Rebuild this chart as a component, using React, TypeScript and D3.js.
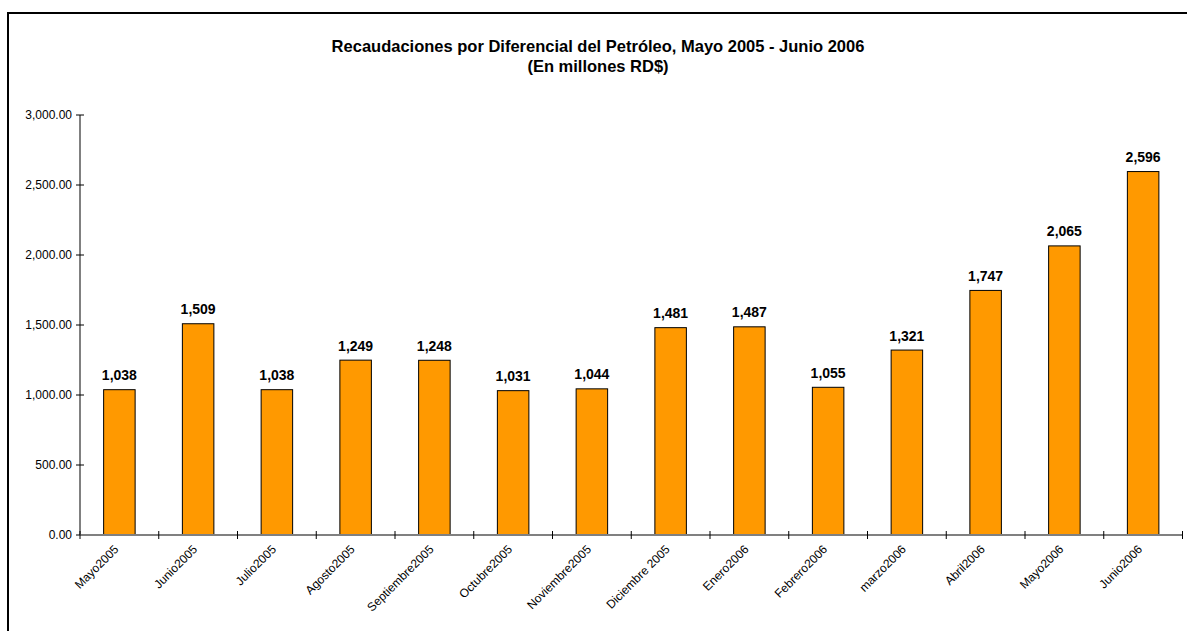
import * as d3 from "d3";

const categories = [
  "Mayo2005", "Junio2005", "Julio2005", "Agosto2005", "Septiembre2005", "Octubre2005",
  "Noviembre2005", "Diciembre 2005", "Enero2006", "Febrero2006", "marzo2006", "Abril2006",
  "Mayo2006", "Junio2006",
];
const values = [1038, 1509, 1038, 1249, 1248, 1031, 1044, 1481, 1487, 1055, 1321, 1747, 2065, 2596];
const yTicks = [0, 500, 1000, 1500, 2000, 2500, 3000];
const titleLines = ["Recaudaciones por Diferencial del Petróleo, Mayo 2005 - Junio 2006", "(En millones RD$)"];

const W = 1187;
const H = 631;
const plot = { left: 80, right: 1182.5, top: 115, bottom: 535 };

export default function App() {
  const x = d3.scaleBand<string>().domain(categories).range([plot.left, plot.right]).paddingInner(0).paddingOuter(0);
  const y = d3.scaleLinear().domain([0, 3000]).range([plot.bottom, plot.top]);
  const bw = x.bandwidth() * 0.4;
  const yFmt = d3.format(",.2f");
  const vFmt = d3.format(",");
  const font = "Arial, 'Liberation Sans', sans-serif";

  return (
    <svg width={W} height={H} style={{ position: "absolute", left: 0, top: 0 }} fontFamily={font}>
      <rect x={0} y={0} width={W} height={H} fill="#fff" />
      <rect x={8} y={13} width={W + 20} height={H + 20} fill="none" stroke="#000" strokeWidth={2} />

      {titleLines.map((t, i) => (
        <text key={i} x={598} y={52 + i * 20} textAnchor="middle" fontSize={16.5} fontWeight="bold" fill="#000">
          {t}
        </text>
      ))}

      {/* bars */}
      {values.map((v, i) => {
        const cx = x(categories[i])! + x.bandwidth() / 2;
        return (
          <g key={i}>
            <rect x={cx - bw / 2} y={y(v)} width={bw} height={y(0) - y(v)} fill="#FF9900" stroke="#000" strokeWidth={1} />
            <text x={cx} y={y(v) - 9.5} textAnchor="middle" fontSize={14} fontWeight="bold" fill="#000">
              {vFmt(v)}
            </text>
          </g>
        );
      })}

      {/* y axis */}
      <line x1={plot.left} x2={plot.left} y1={plot.top} y2={plot.bottom} stroke="#808080" strokeWidth={2} />
      {yTicks.map((t) => (
        <g key={t}>
          <line x1={plot.left - 4} x2={plot.left + 4} y1={y(t)} y2={y(t)} stroke="#000" strokeWidth={1} />
          <text x={72} y={y(t)} dy="0.35em" textAnchor="end" fontSize={12} fill="#000">
            {yFmt(t)}
          </text>
        </g>
      ))}

      {/* x axis */}
      <line x1={plot.left} x2={plot.right} y1={plot.bottom} y2={plot.bottom} stroke="#808080" strokeWidth={2} />
      {[...categories.map((c) => x(c)!), plot.right].map((px, i) => (
        <line key={i} x1={px} x2={px} y1={plot.bottom - 4} y2={plot.bottom + 4} stroke="#000" strokeWidth={1} />
      ))}
      {categories.map((c) => {
        const cx = x(c)! + x.bandwidth() / 2;
        return (
          <text key={c} transform={`translate(${cx - 3},${plot.bottom + 12}) rotate(-45)`} textAnchor="end" dy="0.35em" fontSize={12} fill="#000">
            {c}
          </text>
        );
      })}
    </svg>
  );
}
